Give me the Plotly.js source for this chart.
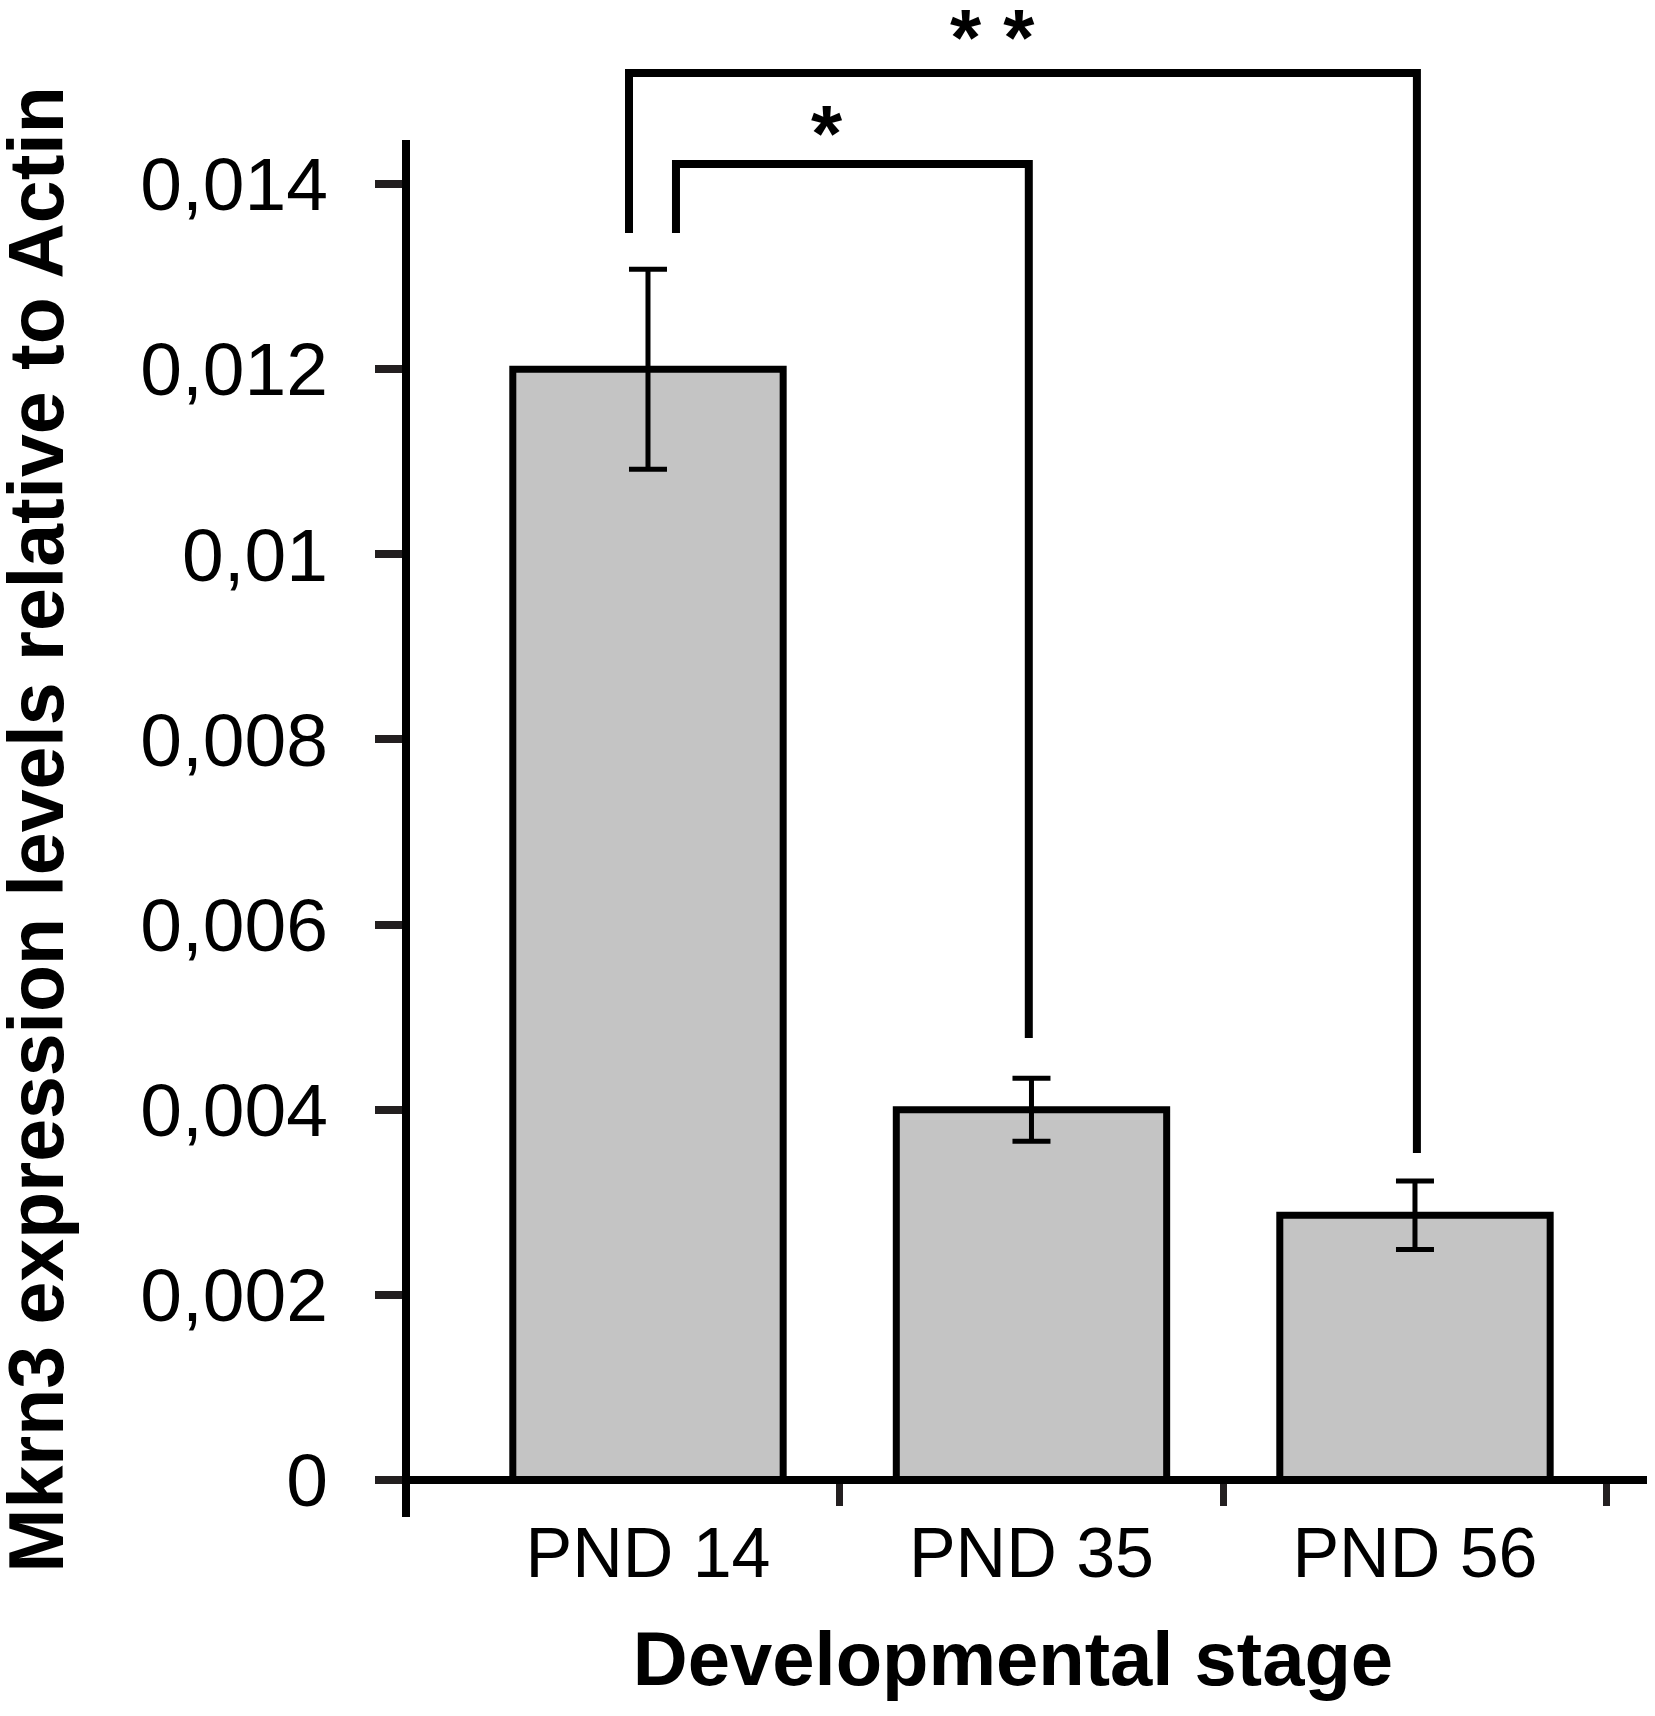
<!DOCTYPE html>
<html>
<head>
<meta charset="utf-8">
<script src="https://cdn.plot.ly/plotly-3.0.1.min.js"></script>
<style>
  html, body { margin: 0; padding: 0; background: #fff; }
  #chart { width: 1655px; height: 1716px; }
</style>
</head>
<body>
<div id="chart"></div>
<script>
// values
var stages = ['PND 14', 'PND 35', 'PND 56'];
var expression = [0.0120, 0.0040, 0.00286];
var sem = [0.00108, 0.00034, 0.00037];

var yTickVals = [0, 0.002, 0.004, 0.006, 0.008, 0.01, 0.012, 0.014];
var yTickText = ['0', '0,002', '0,004', '0,006', '0,008', '0,01', '0,012', '0,014'];

// significance brackets (bar index pairs, levels in data units)
var sigPairs = [[0, 1], [0, 2]];
var sigLabels = ['*', '* *'];
var sigTop = [0.014216, 0.0152];
var sigLeftFoot = [0.01347, 0.01347];
var sigRightFoot = [0.004775, 0.003532];
var sigLeftOff = [0.073, -0.0495];
var sigRightOff = [-0.007, 0.005];
var sigLabelX = [0.468, 0.898];
var sigLabelY = [0.01467, 0.015707];

var xRange = [-0.7014, 2.605];
var yRange = [-0.000486, 0.015988];
var yAxisX = -0.631;
var yAxisTop = 0.014475;
var yAxisBottom = -0.0004;

var idx = stages.map(function (s, i) { return i; });

var data = [{
  type: 'bar',
  x: idx,
  y: expression,
  width: 0.705,
  marker: { color: '#c4c4c4', line: { color: '#000', width: 7 } },
  error_y: { type: 'data', array: sem, visible: true, color: '#000', thickness: 5, width: 19 },
  hoverinfo: 'skip',
  showlegend: false
}];

sigPairs.forEach(function (p, k) {
  var xl = p[0] + sigLeftOff[k], xr = p[1] + sigRightOff[k];
  data.push({
    type: 'scatter',
    mode: 'lines',
    x: [xl, xl, xr, xr],
    y: [sigLeftFoot[k], sigTop[k], sigTop[k], sigRightFoot[k]],
    line: { color: '#000', width: 8 },
    cliponaxis: false,
    hoverinfo: 'skip',
    showlegend: false
  });
});

var annotations = sigLabels.map(function (t, k) {
  return {
    text: t, x: sigLabelX[k], y: sigLabelY[k], xref: 'x', yref: 'y',
    showarrow: false, yshift: -11,
    font: { family: 'Liberation Sans', size: 80, color: '#000', weight: 'bold' }
  };
});
annotations.push({
  text: '<b>Mkrn3 expression levels relative to Actin</b>',
  xref: 'paper', yref: 'paper', x: -0.2702, y: 0.4562,
  xanchor: 'center', yanchor: 'middle', textangle: -90, showarrow: false,
  font: { family: 'Liberation Sans', size: 77, color: '#000' }
});

var layout = {
  width: 1655,
  height: 1716,
  margin: { l: 379, r: 8, t: 0, b: 191 },
  paper_bgcolor: '#fff',
  plot_bgcolor: 'rgba(0,0,0,0)',
  font: { family: 'Liberation Sans', color: '#000' },
  xaxis: {
    range: xRange,
    anchor: 'free',
    position: (0 - yRange[0]) / (yRange[1] - yRange[0]),
    showgrid: false, zeroline: false,
    showline: true, linecolor: '#000', linewidth: 8,
    tickmode: 'array', tickvals: idx, ticktext: stages,
    ticks: '',
    ticklabelstandoff: 9,
    tickfont: { family: 'Liberation Sans', size: 70, color: '#000' },
    minor: { tickmode: 'array', tickvals: [0.5, 1.5, 2.5], ticks: 'outside', ticklen: 22, tickwidth: 7, tickcolor: '#231f20', showgrid: false },
    title: { text: '<b>Developmental stage</b>', standoff: 40, font: { family: 'Liberation Sans', size: 76, color: '#000' } },
    automargin: false,
    fixedrange: true
  },
  yaxis: {
    range: yRange,
    anchor: 'free',
    position: (yAxisX - xRange[0]) / (xRange[1] - xRange[0]),
    showgrid: false, zeroline: false, showline: false,
    tickmode: 'array', tickvals: yTickVals, ticktext: yTickText,
    ticks: 'outside', ticklen: 31, tickwidth: 8, tickcolor: '#231f20',
    ticklabelstandoff: 32,
    tickfont: { family: 'Liberation Sans', size: 75, color: '#000' },
    automargin: false,
    fixedrange: true
  },
  shapes: [{
    type: 'line', xref: 'x', yref: 'y',
    x0: yAxisX, x1: yAxisX, y0: yAxisBottom, y1: yAxisTop,
    line: { color: '#000', width: 8 }, layer: 'above'
  }],
  annotations: annotations
};

Plotly.newPlot('chart', data, layout, { displayModeBar: false, staticPlot: true });
</script>
</body>
</html>
